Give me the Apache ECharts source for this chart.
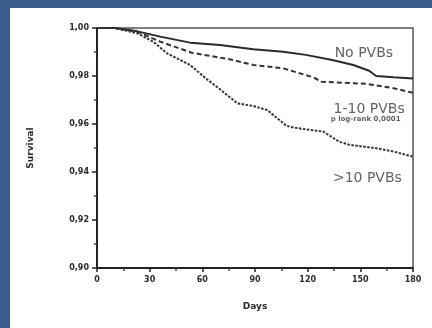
<!DOCTYPE html>
<html>
<head>
<meta charset="utf-8">
<script src="https://cdn.jsdelivr.net/npm/echarts@6/dist/echarts.min.js"></script>
<style>
  html, body { margin: 0; padding: 0; background: #3b5b8c; }
  #chart { position: absolute; left: 10px; top: 8px; width: 422px; height: 320px; background: #fff; }
</style>
</head>
<body>
<div id="chart"></div>
<script>
// survival curves: [day, survival]
var noPvbs = [
  [0, 1.000], [10, 1.000], [23, 0.9986], [36, 0.9964], [53, 0.9939], [70, 0.9929],
  [89, 0.9911], [106, 0.9901], [119, 0.9888], [134, 0.9867], [146, 0.9846],
  [155, 0.9822], [159, 0.9800], [169, 0.9795], [180, 0.9790]
];
var pvbs1to10 = [
  [0, 1.000], [10, 1.000], [23, 0.9985], [36, 0.9943], [54, 0.9897], [76, 0.9869],
  [89, 0.9846], [106, 0.9832], [123, 0.9795], [128, 0.9776], [154, 0.9767],
  [169, 0.9749], [180, 0.9730]
];
var pvbsOver10 = [
  [0, 1.000], [10, 1.000], [23, 0.9978], [32, 0.9943], [40, 0.9894], [53, 0.9846],
  [62, 0.9790], [70, 0.9745], [80, 0.9686], [89, 0.9675], [97, 0.9658],
  [108, 0.9592], [112, 0.9585], [129, 0.9568], [138, 0.9526], [144, 0.9513],
  [159, 0.9499], [169, 0.9485], [180, 0.9464]
];
var curveNames = ['No PVBs', '1-10 PVBs', '>10 PVBs'];
// annotation anchors in data units
var notes = [
  {text: 'No PVBs', at: [152, 0.9896], size: 14, bold: false},
  {text: '1-10 PVBs', at: [155, 0.9663], size: 14, bold: false},
  {text: 'p log-rank 0,0001', at: [153, 0.9621], size: 7, bold: true},
  {text: '>10 PVBs', at: [154, 0.9375], size: 14, bold: false}
];

var myChart = echarts.init(document.getElementById('chart'));

var axisText = {fontFamily: 'DejaVu Sans', fontWeight: 'bold', fontSize: 8, color: '#2a2a2a'};

var option = {
  animation: false,
  grid: {left: 87, top: 20, right: 19, bottom: 60, show: true, borderColor: '#555', borderWidth: 1.5},
  xAxis: {
    type: 'value', min: 0, max: 180, interval: 30,
    name: 'Days', nameLocation: 'middle', nameGap: 34,
    nameTextStyle: {fontFamily: 'DejaVu Sans', fontWeight: 'bold', fontSize: 9, color: '#2a2a2a'},
    axisLine: {lineStyle: {color: '#222', width: 2}},
    axisTick: {length: 4, lineStyle: {color: '#222', width: 1.5}},
    minorTick: {show: true, splitNumber: 2, length: 3, lineStyle: {color: '#444', width: 1.5}},
    splitLine: {show: false},
    axisLabel: Object.assign({margin: 8}, axisText)
  },
  yAxis: {
    type: 'value', min: 0.9, max: 1, interval: 0.02,
    name: 'Survival', nameLocation: 'middle', nameGap: 62, nameRotate: 90,
    nameTextStyle: {fontFamily: 'DejaVu Sans', fontWeight: 'bold', fontSize: 9, color: '#2a2a2a'},
    axisLine: {lineStyle: {color: '#222', width: 2}},
    axisTick: {length: 5, lineStyle: {color: '#222', width: 1.5}},
    minorTick: {show: true, splitNumber: 2, length: 3, lineStyle: {color: '#444', width: 1.5}},
    splitLine: {show: false},
    axisLabel: Object.assign({
      margin: 8,
      formatter: function (v) { return v.toFixed(2).replace('.', ','); }
    }, axisText)
  },
  series: [
    {
      name: curveNames[0], type: 'line', data: noPvbs, symbol: 'none',
      lineStyle: {color: '#2a2a2a', width: 2}
    },
    {
      name: curveNames[1], type: 'line', data: pvbs1to10, symbol: 'none',
      lineStyle: {color: '#333', width: 2, type: [5, 3]}
    },
    {
      name: curveNames[2], type: 'line', data: pvbsOver10, symbol: 'none',
      lineStyle: {color: '#333', width: 2, type: [2.5, 1.5]}
    },
    {
      type: 'scatter', symbolSize: 0, silent: true,
      data: notes.map(function (n) {
        return {
          value: n.at,
          label: {
            show: true, position: 'inside', formatter: n.text,
            fontFamily: 'DejaVu Sans', fontSize: n.size,
            fontWeight: n.bold ? 'bold' : 'normal', color: '#3a3a3a'
          }
        };
      })
    }
  ]
};
myChart.setOption(option);
</script>
</body>
</html>
